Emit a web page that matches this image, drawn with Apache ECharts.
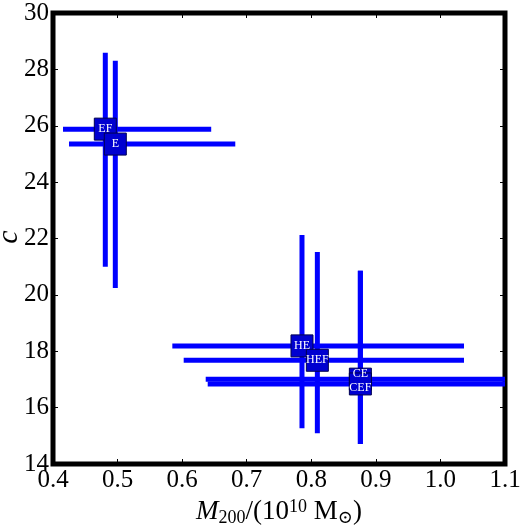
<!DOCTYPE html>
<html style="height: 100%">
<head>
<meta charset="utf-8">
</head>
<body style="height: 100%; margin: 0; width: 100%;">
<div id="container" style="height: 527px; width: 520px;"></div>
<script src="https://cdn.jsdelivr.net/npm/echarts@6/dist/echarts.min.js"></script>
<script type="text/javascript">
// model labels and best-fit values with their error ranges
var names   = ['EF', 'E', 'HE', 'HEF', 'CE', 'CEF'];
var mass    = [0.481, 0.4965, 0.7856, 0.8094, 0.876, 0.876];
var massLo  = [0.4155, 0.4248, 0.5848, 0.6024, 0.6365, 0.6396];
var massHi  = [0.645, 0.6823, 1.0365, 1.0365, 1.13, 1.13];
var conc    = [25.88, 25.35, 18.19, 17.68, 17.01, 16.84];
var concLo  = [21.0, 20.24, 15.27, 15.09, 14.71, 14.71];
var concHi  = [28.59, 28.31, 22.12, 21.52, 20.86, 20.86];
var labelShift = [0, 0, 0, 0, -5, 4];

var dom = document.getElementById('container');
var myChart = echarts.init(dom);
var serif = '"Liberation Serif", "DejaVu Serif", serif';

var barData = [];
var pointData = [];
for (var i = 0; i < names.length; i++) {
    barData.push([mass[i], conc[i], massLo[i], massHi[i], concLo[i], concHi[i]]);
    pointData.push({
        name: names[i],
        value: [mass[i], conc[i]],
        label: {offset: [0, labelShift[i]]}
    });
}

function renderBars(params, api) {
    var x = api.value(0), y = api.value(1);
    var pL = api.coord([api.value(2), y]);
    var pR = api.coord([api.value(3), y]);
    var pT = api.coord([x, api.value(5)]);
    var pB = api.coord([x, api.value(4)]);
    var st = {stroke: '#0000ff', lineWidth: 5};
    return {
        type: 'group',
        children: [
            {type: 'line', shape: {x1: pL[0], y1: pL[1], x2: pR[0], y2: pR[1]}, style: st},
            {type: 'line', shape: {x1: pT[0], y1: pT[1], x2: pB[0], y2: pB[1]}, style: st}
        ]
    };
}

var axisCommon = {
    axisLine: {show: false},
    splitLine: {show: false},
    axisTick: {inside: true, length: 5, lineStyle: {color: '#000', width: 1}}
};

option = {
    animation: false,
    grid: {left: 53, right: 15, top: 13, bottom: 63, show: true,
           outerBoundsMode: 'none', containLabel: false,
           borderColor: '#000', borderWidth: 5, backgroundColor: '#fff'},
    // y-axis title, rotated like the original
    graphic: [{
        type: 'text', x: 9, y: 237, rotation: Math.PI / 2,
        style: {text: 'c', font: 'italic 30px ' + serif, fill: '#000',
                align: 'center', verticalAlign: 'middle'}
    }],
    xAxis: [
        Object.assign({
            type: 'value', min: 0.4, max: 1.1, interval: 0.1,
            name: '{i|M}{s|200}{n|/(10}{p|10}{n| M}{s|⊙}{n|)}',
            nameLocation: 'middle', nameGap: 33,
            nameTextStyle: {
                fontFamily: serif, fontSize: 27, color: '#000',
                rich: {
                    i: {fontFamily: serif, fontSize: 27, fontStyle: 'italic', color: '#000'},
                    n: {fontFamily: serif, fontSize: 27, color: '#000'},
                    s: {fontFamily: serif, fontSize: 18, color: '#000', padding: [11, 0, 0, 0]},
                    p: {fontFamily: serif, fontSize: 18, color: '#000', padding: [0, 0, 11, 0]}
                }
            },
            axisLabel: {fontFamily: serif, fontSize: 25, color: '#000', margin: 4,
                formatter: function (v) { return v.toFixed(1); }}
        }, axisCommon),
        Object.assign({
            type: 'value', min: 0.4, max: 1.1, interval: 0.1, position: 'top',
            axisLabel: {show: false}
        }, axisCommon)
    ],
    yAxis: [
        Object.assign({
            type: 'value', min: 14, max: 30, interval: 2,
            axisLabel: {fontFamily: serif, fontSize: 25, color: '#000', margin: 4}
        }, axisCommon),
        Object.assign({
            type: 'value', min: 14, max: 30, interval: 2, position: 'right',
            axisLabel: {show: false}
        }, axisCommon)
    ],
    series: [
        {
            type: 'custom',
            renderItem: renderBars,
            clip: true,
            encode: {x: [0, 2, 3], y: [1, 4, 5]},
            data: barData,
            z: 2
        },
        {
            type: 'scatter',
            symbol: 'rect',
            symbolSize: 22,
            itemStyle: {color: '#0000d0', borderColor: '#000050', borderWidth: 1, opacity: 1},
            label: {
                show: true, position: 'inside', formatter: '{b}',
                fontFamily: serif, fontSize: 12, color: '#fff'
            },
            data: pointData,
            z: 3
        }
    ]
};

if (option && typeof option === 'object') {
    myChart.setOption(option, true);
}
</script>
</body>
</html>
